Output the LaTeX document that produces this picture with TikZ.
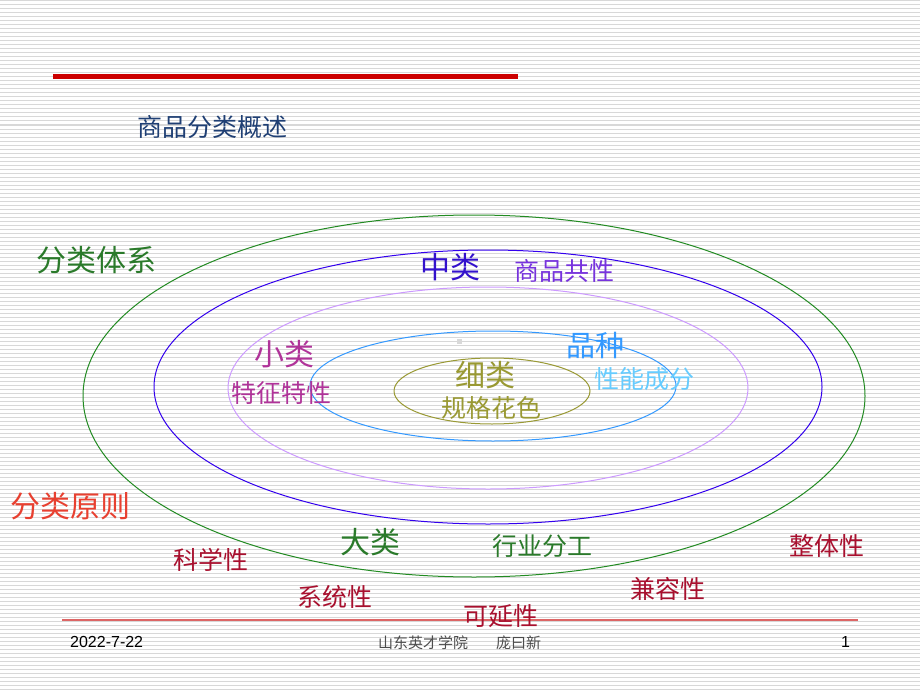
\documentclass[tikz,border=0pt]{standalone}
\usepackage{fontspec}
\setmainfont{Liberation Sans}
\newfontfamily\cjk{Noto Sans CJK SC}
\usetikzlibrary{positioning}
\tikzstyle{label_big}=[font=\cjk\fontsize{30}{30}\selectfont, inner sep=0pt, anchor=west]
\tikzstyle{label_small}=[font=\cjk\fontsize{25}{25}\selectfont, inner sep=0pt, anchor=west]
\tikzstyle{label_foot}=[font=\fontsize{16}{16}\selectfont, inner sep=0pt, anchor=west]
\tikzstyle{ring}=[line width=1pt]
\definecolor{titleblue}{HTML}{1F3F74}
\definecolor{barred}{HTML}{CC0000}
\definecolor{footred}{HTML}{DD6666}
\definecolor{stripegray}{HTML}{D8D8D8}
\definecolor{systemgreen}{HTML}{2A7A2A}
\definecolor{middleblue}{HTML}{3311CC}
\definecolor{middleviolet}{HTML}{7733DD}
\definecolor{smallpink}{HTML}{B03399}
\definecolor{varietyblue}{HTML}{3399FF}
\definecolor{varietysky}{HTML}{66CCFF}
\definecolor{fineolive}{HTML}{999933}
\definecolor{principlered}{HTML}{E84030}
\definecolor{principlecrimson}{HTML}{A8102E}
\definecolor{ringgreen}{HTML}{228B22}
\definecolor{ringblue}{HTML}{3300EE}
\definecolor{ringviolet}{HTML}{CC99FF}
\definecolor{ringsky}{HTML}{3399FF}

\begin{document}
\begin{tikzpicture}[x=1pt,y=-1pt]

            % Background
            \fill[white] (0,0) rectangle (920,690);
            \useasboundingbox (0,0) rectangle (920,690);
            \foreach \y in {1,5,...,689}
                \draw[stripegray,line width=1pt] (0,\y) -- (920,\y);

            % Header
            \draw[barred,line width=5pt] (53,77) -- (518,77);
            \node[label_small,text=titleblue] (title) at (137,127) {商品分类概述};

            % Rings
            \draw[ring,ringgreen] (474,396) ellipse [x radius=391pt, y radius=181pt];
            \draw[ring,ringblue] (488,387) ellipse [x radius=334pt, y radius=137pt];
            \draw[ring,ringviolet] (488,388) ellipse [x radius=260pt, y radius=101pt];
            \draw[ring,ringsky] (493,386) ellipse [x radius=183pt, y radius=55pt];
            \draw[ring,fineolive] (492,391) ellipse [x radius=98pt, y radius=33pt];
            \fill[gray!30] (457,339) rectangle (462,344);

            % Levels
            \node[label_big,text=systemgreen] (system) at (36,260) {分类体系};
            \node[label_big,text=middleblue] (middle) at (420,267) {中类};
            \node[label_small,text=middleviolet] (middle_text) at (514,271) {商品共性};
            \node[label_big,text=smallpink] (small) at (254,354) {小类};
            \node[label_small,text=smallpink] (small_text) at (231,393) {特征特性};
            \node[label_big,font=\cjk\fontsize{29}{29}\selectfont,text=varietyblue] (variety) at (566,346) {品种};
            \node[label_small,text=varietysky] (variety_text) at (594,379) {性能成分};
            \node[label_big,text=fineolive] (fine) at (455,375) {细类};
            \node[label_small,text=fineolive] (fine_text) at (441,408) {规格花色};
            \node[label_big,text=systemgreen] (large) at (340,542) {大类};
            \node[label_small,text=systemgreen] (large_text) at (492,546) {行业分工};

            % Footer line
            \draw[footred,line width=2pt] (62,620) -- (858,620);

            % Principles
            \node[label_big,text=principlered] (principle) at (10,506) {分类原则};
            \node[label_small,text=principlecrimson] (scientific) at (173,560) {科学性};
            \node[label_small,text=principlecrimson] (systematic) at (297,597) {系统性};
            \node[label_small,text=principlecrimson] (extensible) at (463,616) {可延性};
            \node[label_small,text=principlecrimson] (compatible) at (630,589) {兼容性};
            \node[label_small,text=principlecrimson] (integral) at (789,546) {整体性};

            % Footer
            \node[label_foot] (date) at (70,642) {2022-7-22};
            \node[label_foot,font=\cjk\fontsize{15}{15}\selectfont,text=black!70] (school) at (378,643) {山东英才学院\hspace{28pt}庞曰新};
            \node[label_foot] (page) at (841,642) {1};

        \end{tikzpicture}
\end{document}
